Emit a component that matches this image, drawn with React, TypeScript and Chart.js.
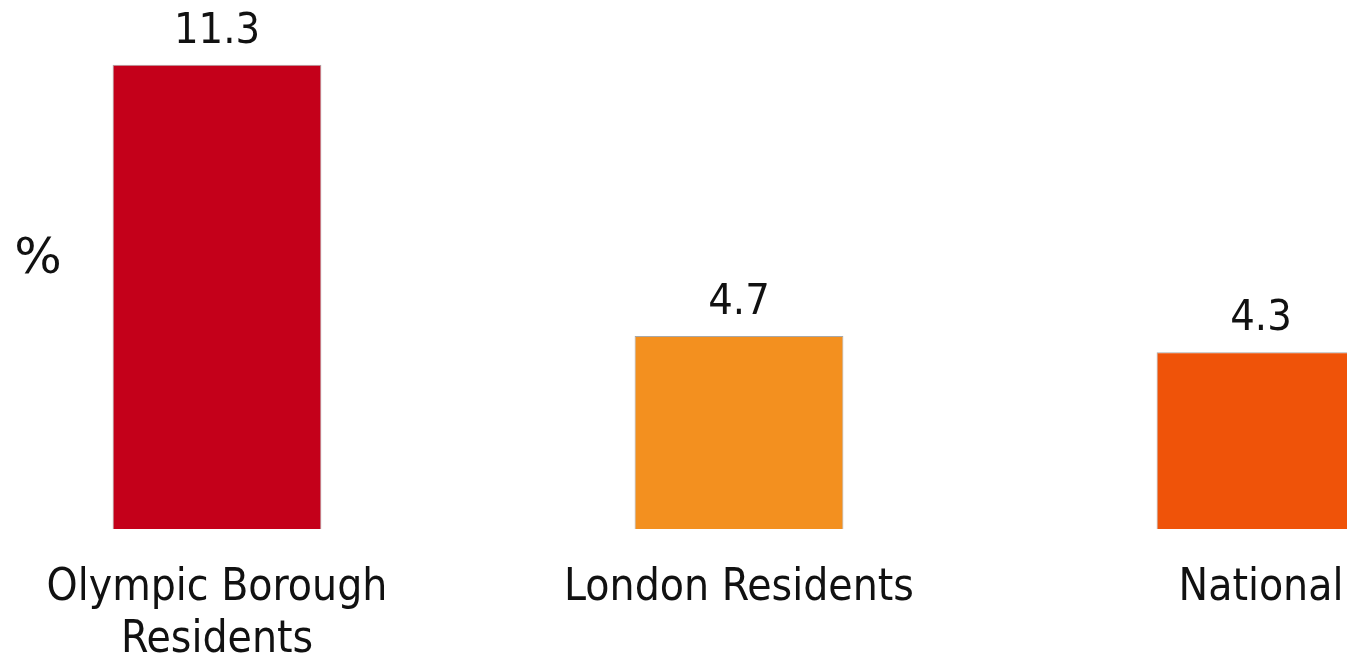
import React, { useEffect, useRef } from "react";
import { Chart, registerables } from "chart.js";

Chart.register(...registerables);

const categories: (string | string[])[] = [["Olympic Borough", "Residents"], "London Residents", "National"];
const values: number[] = [11.3, 4.7, 4.3];
const barColors: string[] = ["#C4001A", "#F3901F", "#EF5309"];
const yAxisLabel = "%";

const FONT = "'DejaVu Sans Condensed', 'DejaVu Sans', sans-serif";

const CANVAS_LEFT = -60;
const CANVAS_W = 1640;
const CANVAS_H = 664;

export default function App() {
  const ref = useRef<HTMLCanvasElement | null>(null);

  useEffect(() => {
    if (!ref.current) return;
    const valueLabels = {
      id: "valueLabels",
      afterDatasetsDraw(chart: any) {
        const ctx = chart.ctx;
        const meta = chart.getDatasetMeta(0);
        ctx.save();
        ctx.fillStyle = "#111";
        ctx.font = `43px ${FONT}`;
        ctx.textAlign = "center";
        ctx.textBaseline = "alphabetic";
        meta.data.forEach((el: any, i: number) => {
          ctx.fillText(String(values[i]), el.x, el.y - 22);
        });
        ctx.restore();
      },
      afterDraw(chart: any) {
        const ctx = chart.ctx;
        ctx.save();
        ctx.fillStyle = "#111";
        ctx.font = `50px 'DejaVu Sans', sans-serif`;
        ctx.textAlign = "center";
        ctx.textBaseline = "middle";
        ctx.fillText(yAxisLabel, 38 - CANVAS_LEFT, 260);
        ctx.restore();
      },
    };
    const chart = new Chart(ref.current, {
      type: "bar",
      data: {
        labels: categories,
        datasets: [
          {
            data: values,
            backgroundColor: barColors,
            borderColor: "#A8A8A8",
            borderWidth: 1,
            barPercentage: 0.4,
            categoryPercentage: 1,
          },
        ],
      },
      options: {
        responsive: false,
        animation: false,
        layout: { padding: { left: 16, right: 58, top: 36, bottom: 6 } },
        plugins: { legend: { display: false }, tooltip: { enabled: false } },
        scales: {
          x: {
            grid: { display: false },
            border: { display: false },
            afterFit(scale: any) {
              scale.height = 129;
            },
            ticks: {
              color: "#111",
              padding: 26,
              maxRotation: 0,
              autoSkip: false,
              font: { family: FONT, size: 44, lineHeight: 1.18 },
            },
          },
          y: {
            display: false,
            min: 0,
            max: 12,
          },
        },
      },
      plugins: [valueLabels],
    });
    return () => chart.destroy();
  }, []);

  return (
    <div
      style={{
        position: "fixed",
        left: 0,
        top: 0,
        width: 1347,
        height: 658,
        overflow: "hidden",
        background: "#fff",
      }}
    >
      <canvas
        ref={ref}
        width={CANVAS_W}
        height={CANVAS_H}
        style={{ position: "absolute", left: CANVAS_LEFT, top: 0, width: CANVAS_W, height: CANVAS_H }}
      />
    </div>
  );
}
